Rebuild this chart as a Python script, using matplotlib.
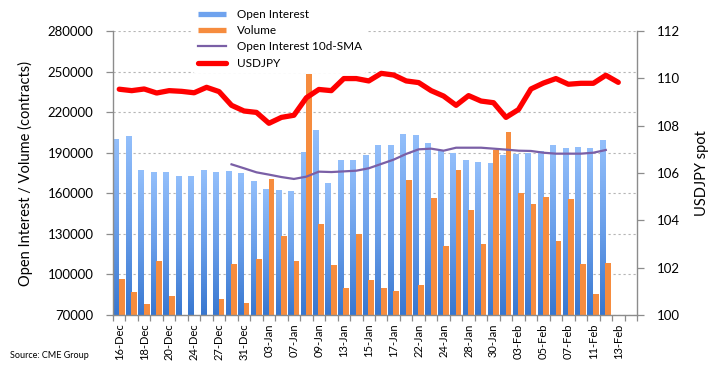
import numpy as np
import matplotlib
matplotlib.use('Agg')
import matplotlib.pyplot as plt
from matplotlib.colors import LinearSegmentedColormap
from matplotlib.lines import Line2D

plt.rcParams['font.family'] = ['Lato', 'DejaVu Sans']

dates = ['16-Dec', '17-Dec', '18-Dec', '19-Dec', '20-Dec', '23-Dec', '24-Dec', '26-Dec',
         '27-Dec', '30-Dec', '31-Dec', '02-Jan', '03-Jan', '06-Jan', '07-Jan', '08-Jan',
         '09-Jan', '10-Jan', '13-Jan', '14-Jan', '15-Jan', '16-Jan', '17-Jan', '21-Jan',
         '22-Jan', '23-Jan', '24-Jan', '27-Jan', '28-Jan', '29-Jan', '30-Jan', '31-Jan',
         '03-Feb', '04-Feb', '05-Feb', '06-Feb', '07-Feb', '10-Feb', '11-Feb', '12-Feb',
         '13-Feb', '14-Feb']

open_interest = [200100, 202400, 177200, 175700, 175700, 172800, 172800, 177200, 175700, 176500,
                 175000, 169100, 163200, 162400, 161700, 190500, 206800, 167600, 184600, 184600,
                 188300, 195700, 195700, 203800, 203100, 197200, 191300, 189800, 184600, 183100,
                 182400, 188300, 189000, 189800, 191300, 195700, 193500, 194200, 193500, 199400]

volume = [96600, 87000, 78100, 109900, 84000, np.nan, np.nan, np.nan, 81800, 107700,
          78900, 111400, 170600, 128400, 109900, 248200, 137300, 107000, 90000, 129900,
          95900, 90000, 87700, 169800, 92200, 156500, 121000, 177200, 147600, 122500,
          192000, 205300, 160200, 152100, 157300, 124700, 155800, 107700, 85500, 108400]

sma_start = 9
oi_sma10 = [181400, 178500, 175500, 173800, 172000, 170600, 172300, 176000, 175700, 176200,
            176700, 178500, 181700, 184900, 189100, 192500, 193000, 191500, 193700, 193700,
            193700, 193000, 192300, 191500, 191300, 190000, 189300, 189300, 189300, 190000,
            192000]

usdjpy = [109.54, 109.48, 109.55, 109.38, 109.48, 109.45, 109.39, 109.62, 109.44, 108.86,
          108.62, 108.56, 108.10, 108.35, 108.44, 109.18, 109.53, 109.48, 109.99, 109.99,
          109.89, 110.21, 110.14, 109.89, 109.82, 109.48, 109.25, 108.86, 109.27, 109.04,
          108.97, 108.35, 108.68, 109.55, 109.80, 109.99, 109.75, 109.79, 109.79, 110.13,
          109.83]

W, H = 714, 367
fig = plt.figure(figsize=(W / 100, H / 100), dpi=100)
ax = fig.add_axes([113 / W, 1 - 315 / H, (637 - 113) / W, (315 - 31) / H])
ax2 = ax.twinx()

n = len(dates)
x = np.arange(n)
YMIN, YMAX = 70000, 280000

grey = '#8C8C8C'
blue_cmap = LinearSegmentedColormap.from_list('oi', ['#3877D0', '#6A9FEA', '#93BFFB'])
grad = np.linspace(0, 1, 256).reshape(-1, 1)

xo = np.arange(len(open_interest))
oi_bars = ax.bar(xo - 0.25, open_interest, width=0.44, facecolor='none',
                 edgecolor='none', zorder=2)
for r in oi_bars:
    x0, w, h = r.get_x(), r.get_width(), r.get_height()
    im = ax.imshow(grad, extent=[x0, x0 + w, YMIN, h], origin='lower', aspect='auto',
                   cmap=blue_cmap, zorder=2, interpolation='bilinear')
    im.set_clip_path(r)

vol = np.array(volume, dtype=float)
ok = ~np.isnan(vol)
ax.bar(xo[ok] + 0.2, vol[ok], width=0.46, color='#F68C3E', zorder=2.5)

ax.plot(x[sma_start:sma_start + len(oi_sma10)], oi_sma10, color='#7A5FA6', lw=1.6, zorder=3)
ax2.plot(x[:len(usdjpy)], usdjpy, color='#FF0000', lw=3.8, solid_joinstyle='round',
         solid_capstyle='round', zorder=4)

ax.set_xlim(-0.5, n - 0.5)
ax.set_ylim(YMIN, YMAX)
ax.set_yticks(np.arange(YMIN, YMAX + 1, 30000))
ax2.set_ylim(100, 112)
ax2.set_yticks(np.arange(100, 113, 2))

ax.set_xticks(np.arange(-0.5, n, 1))
ax.set_xticklabels([])
ax.set_xticks(x[::2], minor=True)
ax.set_xticklabels(dates[::2], minor=True, rotation=90, fontsize=8)
ax.tick_params(axis='x', which='major', direction='out', length=4, color=grey, width=0.9)
ax.tick_params(axis='x', which='minor', length=0, pad=6)

ax.yaxis.grid(True, linestyle=(0, (2, 2.5)), color='#B5B5B5', lw=0.8)
ax.set_axisbelow(True)

ax.tick_params(axis='y', direction='out', length=5, color=grey, width=0.9,
               labelsize=9.5, pad=9)
ax2.tick_params(axis='y', direction='out', length=5, color=grey, width=0.9,
                labelsize=9.5, pad=9)

for s in ['top', 'right']:
    ax.spines[s].set_visible(False)
for s in ['top', 'left', 'bottom']:
    ax2.spines[s].set_visible(False)
for s in ['left', 'bottom']:
    ax.spines[s].set_color(grey)
    ax.spines[s].set_linewidth(1.0)
ax2.spines['right'].set_color(grey)
ax2.spines['right'].set_linewidth(1.0)

ax.set_ylabel('Open Interest / Volume (contracts)', fontsize=10.5)
ax.yaxis.set_label_coords((33 - 113) / 524, 0.5)
ax2.set_ylabel('USDJPY spot', fontsize=10.5)
ax2.yaxis.set_label_coords((695 - 113) / 524, 0.5)

handles = [Line2D([], [], color='#6FA3EE', lw=3.8, solid_capstyle='butt'),
           Line2D([], [], color='#F68C3E', lw=3.8, solid_capstyle='butt'),
           Line2D([], [], color='#7A5FA6', lw=1.6),
           Line2D([], [], color='#FF0000', lw=3.8, solid_capstyle='round')]
labels = ['Open Interest', 'Volume', 'Open Interest 10d-SMA', 'USDJPY']
fig.legend(handles, labels, loc='upper left', bbox_to_anchor=(193 / W, 1 - 4 / H),
           fontsize=8.5, frameon=True, facecolor='white', edgecolor='none', framealpha=1,
           handlelength=2.4, handletextpad=0.9, labelspacing=0.45, borderpad=0.4,
           borderaxespad=0)

fig.text(10 / W, 1 - 355 / H, 'Source: CME Group', fontsize=6.5, va='center')

fig.savefig('out.png', dpi=100)
